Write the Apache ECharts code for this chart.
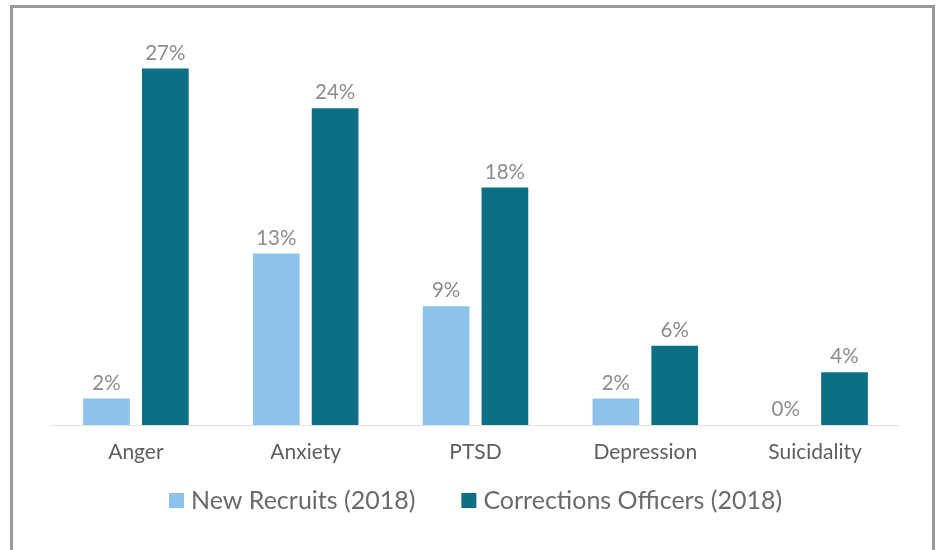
<!DOCTYPE html>
<html>
<head>
<meta charset="utf-8">
<script src="https://cdn.jsdelivr.net/npm/echarts@6/dist/echarts.min.js"></script>
<style>
html,body{margin:0;padding:0;background:#fff;}
#frame{position:absolute;left:10px;top:5px;width:925px;height:560px;border:3px solid #9a9a9a;box-sizing:border-box;}
#chart{position:absolute;left:0;top:0;width:942px;height:550px;}
</style>
</head>
<body>
<div id="frame"></div>
<div id="chart"></div>
<script>
const categories = ['Anger', 'Anxiety', 'PTSD', 'Depression', 'Suicidality'];
const newRecruits = [2, 13, 9, 2, 0];
const officers = [27, 24, 18, 6, 4];
const seriesNames = ['New Recruits (2018)', 'Corrections Officers (2018)'];

const chart = echarts.init(document.getElementById('chart'));
const font = 'Lato, "Open Sans", sans-serif';
const lbl = {show: true, position: 'top', formatter: '{c}%', color: '#8c8c8c', fontSize: 20.5, fontFamily: font, distance: 5};
chart.setOption({
  animation: false,
  textStyle: {fontFamily: font},
  legend: {
    data: seriesNames,
    top: 483,
    left: 164,
    itemWidth: 15, itemHeight: 15, itemGap: 46,
    icon: 'rect',
    textStyle: {color: '#6a6a6a', fontSize: 25, fontFamily: font, padding: [0,0,0,2]}
  },
  grid: {left: 51, right: 42, top: 29, bottom: 125},
  xAxis: {
    type: 'category',
    data: categories,
    axisLine: {lineStyle: {color: '#e2e2e2', width: 1}},
    axisTick: {show: false},
    axisLabel: {color: '#5e5e5e', fontSize: 21, fontFamily: font, margin: 17}
  },
  yAxis: {
    type: 'value', min: 0, max: 30,
    show: false, splitLine: {show: false}
  },
  series: [
    {name: seriesNames[0], type: 'bar', data: newRecruits, barWidth: '27.5%', barGap: '26%',
     itemStyle: {color: '#8dc3ea'}, label: lbl},
    {name: seriesNames[1], type: 'bar', data: officers, barWidth: '27.5%', barGap: '26%',
     itemStyle: {color: '#0d6f84'}, label: lbl}
  ]
});
</script>
</body>
</html>
